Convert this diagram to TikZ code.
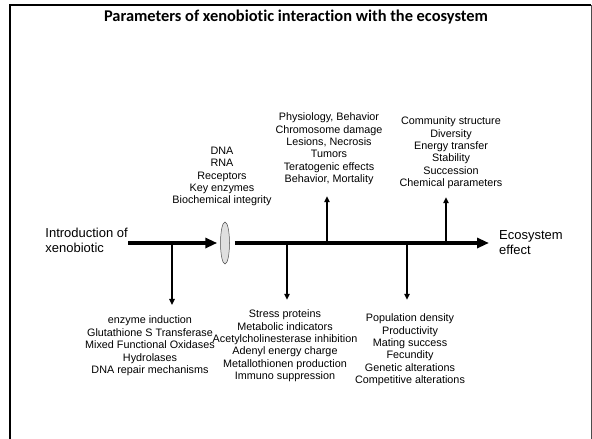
\documentclass[tikz,border=0pt]{standalone}
\usepackage{fontspec}
\setmainfont{Liberation Sans}
\newfontfamily\titlefont[Ligatures=NoCommon]{Carlito}
\usetikzlibrary{arrows.meta,positioning,shapes.geometric}

\begin{document}
\begin{tikzpicture}[
  x=1pt, y=-1pt,
  lab/.style={align=center,inner sep=0pt,font=\fontsize{10.8}{12.4}\selectfont},
  big/.style={align=left,inner sep=0pt,font=\fontsize{13}{15}\selectfont},
  mainarr/.style={line width=3.5pt,-{Triangle[length=12pt,width=10pt]}},
  sidearr/.style={line width=1.6pt,-{Triangle[length=6pt,width=5.5pt]}},
  lens/.style={ellipse,draw=gray!60!black,line width=0.5pt,fill=gray!25,
    minimum width=9pt,minimum height=42pt,inner sep=0pt}
]
\useasboundingbox (0,0) rectangle (592,439);

\draw[line width=2.5pt] (10,440) -- (10,5) -- (591,5);
\draw[gray!60!black,line width=1pt] (591,5) -- (591,440);

\node[inner sep=0pt,font=\titlefont\bfseries\fontsize{16.4}{18}\selectfont] (title) at (296,17)
  {Parameters of xenobiotic interaction with the ecosystem};

\node[lens] (lens) at (225,243) {};
\node[big,anchor=east] (intro) at (128,240.5) {Introduction of\\xenobiotic};
\node[big,anchor=west] (eco) at (499,242.5) {Ecosystem\\effect};

\draw[mainarr,shorten >=3pt] (intro.east |- lens.west) -- (lens.west);
\draw[mainarr,shorten <=5pt,shorten >=10pt] (lens.east) -- (lens.east -| eco.west);

\coordinate (d1) at (172,243);
\coordinate (d2) at (287,243);
\coordinate (d3) at (407,243);
\coordinate (u1) at (327,243);
\coordinate (u2) at (446,243);

\node[lab] (mol) at (222,176.5) {DNA\\RNA\\Receptors\\Key enzymes\\Biochemical integrity};
\node[lab] (org) at (329,149) {Physiology, Behavior\\Chromosome damage\\Lesions, Necrosis\\Tumors\\Teratogenic effects\\Behavior, Mortality};
\node[lab] (comm) at (451,153) {Community structure\\Diversity\\Energy transfer\\Stability\\Succession\\Chemical parameters};
\node[lab] (enz) at (150,346) {enzyme induction\\Glutathione S Transferase\\Mixed Functional Oxidases\\Hydrolases\\DNA repair mechanisms};
\node[lab] (cell) at (285,346) {Stress proteins\\Metabolic indicators\\Acetylcholinesterase inhibition\\Adenyl energy charge\\Metallothionen production\\Immuno suppression};
\node[lab] (pop) at (410,350) {Population density\\Productivity\\Mating success\\Fecundity\\Genetic alterations\\Competitive alterations};

\draw[sidearr,shorten >=11pt] (d1) -- (d1 |- enz.north);
\draw[sidearr,shorten >=10pt] (d2) -- (d2 |- cell.north);
\draw[sidearr,shorten >=14pt] (d3) -- (d3 |- pop.north);
\draw[sidearr,shorten >=11pt] (u1) -- (u1 |- org.south);
\draw[sidearr,shorten >=8pt] (u2) -- (u2 |- comm.south);
\end{tikzpicture}
\end{document}
